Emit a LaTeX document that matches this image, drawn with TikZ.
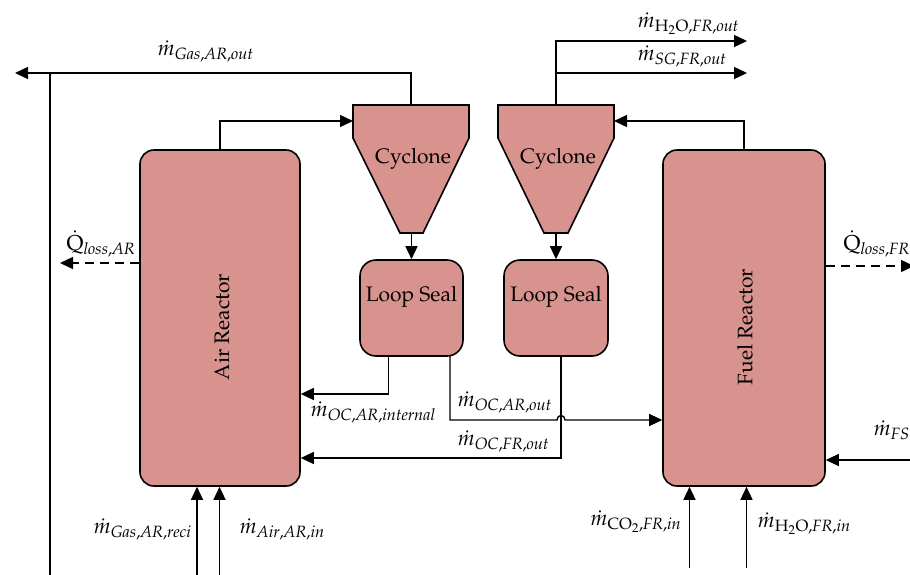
\documentclass[tikz,border=0pt]{standalone}
\usepackage[T1]{fontenc}
\usepackage{mathpazo}
\usetikzlibrary{arrows.meta}
\definecolor{unitfill}{RGB}{217,147,143}
\begin{document}
\begin{tikzpicture}[x=1pt,y=-1pt, line width=1.4pt,
  unitbox/.style={draw, fill=unitfill, rounded corners=14pt, line width=1.6pt, inner sep=0pt},
  flow/.style={-{Triangle[length=13pt,width=12pt]}},
  heatflow/.style={flow, dash pattern=on 9pt off 6pt},
  lbl/.style={font=\fontsize{21.5}{25}\selectfont, inner sep=0pt},
  txt/.style={font=\fontsize{21}{25}\selectfont, inner sep=0pt}]
\useasboundingbox (0,0) rectangle (910,574);
\clip (0,0) rectangle (910,574);

% reactors and loop seals
\node[unitbox, minimum width=160pt, minimum height=336pt] (AR) at (220,318) {};
\node[unitbox, minimum width=162pt, minimum height=336pt] (FR) at (744,318) {};
\node[unitbox, minimum width=103pt, minimum height=96pt, rounded corners=16pt] (LS1) at (411.5,308) {};
\node[unitbox, minimum width=104pt, minimum height=96pt, rounded corners=16pt] (LS2) at (556,308) {};
\node[txt, rotate=90] (ARt) at (222,327) {Air Reactor};
\node[txt, rotate=90] (FRt) at (745,327) {Fuel Reactor};
\node[txt, anchor=base] (LS1t) at (411.5,301) {Loop Seal};
\node[txt, anchor=base] (LS2t) at (556,301) {Loop Seal};

% cyclones
\draw[fill=unitfill, line width=1.6pt, line join=miter]
  (353,105) -- (469,105) -- (469,138) -- (423,233) -- (400,233) -- (353,138) -- cycle;
\draw[fill=unitfill, line width=1.6pt, line join=miter]
  (498,105) -- (614,105) -- (614,138) -- (568,233) -- (544,233) -- (498,138) -- cycle;
\node[txt, anchor=base] (C1t) at (413,163) {Cyclone};
\node[txt, anchor=base] (C2t) at (558,163) {Cyclone};
\coordinate (c1top) at (411,105);
\coordinate (c1in) at (353,121);
\coordinate (c1bot) at (411.5,233);
\coordinate (c2top) at (556,105);
\coordinate (c2in) at (614,121);
\coordinate (c2bot) at (556,233);

% helper coordinates
\coordinate (gasout) at (15,73);
\coordinate (recitop) at (50,73);
\coordinate (recibot) at (50,580);
\coordinate (h2oout) at (747,41);
\coordinate (sgout) at (747,73);
\coordinate (ls1a) at (388.5,356);
\coordinate (ls1b) at (450,356);
\coordinate (ls2a) at (561,356);
\coordinate (lvint) at (0,394);
\coordinate (lvfrout) at (0,458);
\coordinate (qarend) at (60,263);
\coordinate (qfrend) at (914,266);
\coordinate (fsin) at (916,460);
\coordinate (arreci) at (197,580);
\coordinate (arair) at (219.5,580);
\coordinate (frco) at (689.5,568);
\coordinate (frh) at (746.5,568);

% connectors
\draw[flow] (c1top) |- (gasout);
\draw (recitop) -- (recibot);
\draw[flow] (AR.north) |- (c1in);
\draw[flow] (FR.north) |- (c2in);
\draw[flow] (c1bot) -- (LS1.north);
\draw[flow] (c2bot) -- (LS2.north);
\draw[flow] (c2top) |- (h2oout);
\draw[flow] (c2top |- sgout) -- (sgout);
\draw[flow] (ls1a) |- (AR.east |- lvint);
\draw[flow] (ls1b) -- (450,420) -- (557,420) .. controls (557,414) and (565,414) .. (565,420) -- (FR.west |- 0,420);
\draw[flow] (ls2a) |- (AR.east |- lvfrout);
\draw[heatflow] (AR.west |- qarend) -- (qarend);
\draw[heatflow] (FR.east |- qfrend) -- (qfrend);
\draw[flow] (fsin) -- (FR.east |- fsin);
\draw[flow] (arreci) -- (AR.south -| arreci);
\draw[flow] (arair) -- (AR.south -| arair);
\draw[flow] (frco) -- (FR.south -| frco);
\draw[flow] (frh) -- (FR.south -| frh);

% labels
\node[lbl, anchor=base west] (lgasout) at (157,55) {$\dot{m}_{\mathit{Gas,AR,out}}$};
\node[lbl, anchor=base west] (lh2oout) at (637,27) {$\dot{m}_{\mathrm{H_2O},\mathit{FR,out}}$};
\node[lbl, anchor=base west] (lsgout) at (637,60) {$\dot{m}_{\mathit{SG,FR,out}}$};
\node[lbl, anchor=base west] (lqar) at (66,250) {$\dot{\mathrm{Q}}_{\mathit{loss,AR}}$};
\node[lbl, anchor=base west] (lqfr) at (843,250) {$\dot{\mathrm{Q}}_{\mathit{loss,FR}}$};
\node[lbl, anchor=base west] (lint) at (310,416) {$\dot{m}_{\mathit{OC,AR,internal}}$};
\node[lbl, anchor=base west] (laro) at (457,406) {$\dot{m}_{\mathit{OC,AR,out}}$};
\node[lbl, anchor=base west] (lfro) at (457,445) {$\dot{m}_{\mathit{OC,FR,out}}$};
\node[lbl, anchor=base west] (lfs) at (873,435) {$\dot{m}_{\mathit{FS}}$};
\node[lbl, anchor=base east] (lreci) at (192,533) {$\dot{m}_{\mathit{Gas,AR,reci}}$};
\node[lbl, anchor=base west] (lair) at (239,533) {$\dot{m}_{\mathit{Air,AR,in}}$};
\node[lbl, anchor=base east] (lco2) at (682,525) {$\dot{m}_{\mathrm{CO_2},\mathit{FR,in}}$};
\node[lbl, anchor=base west] (lh2oin) at (757,527) {$\dot{m}_{\mathrm{H_2O},\mathit{FR,in}}$};
\end{tikzpicture}
\end{document}
